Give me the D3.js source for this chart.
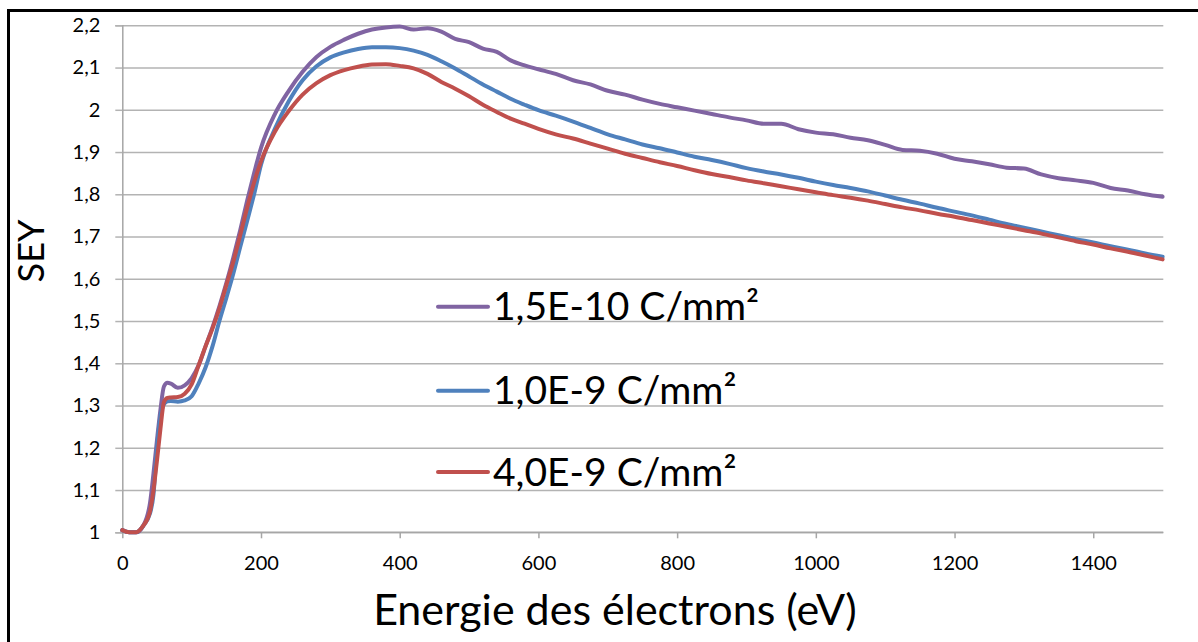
<!DOCTYPE html>
<html>
<head>
<meta charset="utf-8">
<script src="https://cdn.jsdelivr.net/npm/d3@7"></script>
<style>
  html, body { margin: 0; padding: 0; background: #fff; }
  svg { display: block; }
  text { font-family: Lato, "Open Sans", sans-serif; fill: #000; }
</style>
</head>
<body>
<svg id="chart" width="1198" height="642"></svg>
<script>
// ---- data ----
const energies = [0,10,20,30,40,45,50,55,60,65,70,80,90,100,110,120,130,140,150,160,170,180,190,200,
  220,240,260,280,300,320,340,360,380,400,420,440,460,480,500,520,540,560,580,600,
  625,650,675,700,725,750,775,800,825,850,875,900,925,950,975,1000,1025,1050,1075,1100,
  1125,1150,1175,1200,1225,1250,1275,1300,1325,1350,1375,1400,1425,1450,1475,1500];

const sey_15E10 = [1.005,1.0,1.0,1.015,1.07,1.14,1.218,1.29,1.345,1.354,1.352,1.342,1.348,1.365,1.395,1.44,1.485,1.535,1.59,1.65,1.715,1.785,1.85,1.91,
  1.99,2.045,2.09,2.125,2.149,2.166,2.18,2.19,2.195,2.197,2.19,2.193,2.185,2.168,2.16,2.145,2.137,2.117,2.105,2.096,
  2.085,2.07,2.06,2.045,2.036,2.024,2.014,2.006,1.998,1.99,1.982,1.975,1.967,1.967,1.954,1.946,1.942,1.934,1.928,1.917,
  1.905,1.903,1.896,1.884,1.878,1.871,1.863,1.861,1.847,1.838,1.833,1.827,1.815,1.809,1.800,1.794];

const sey_10E9 = [1.005,1.0,1.0,1.015,1.045,1.09,1.2,1.275,1.303,1.31,1.311,1.309,1.312,1.322,1.352,1.39,1.44,1.5,1.555,1.612,1.675,1.737,1.8,1.87,
  1.955,2.02,2.07,2.103,2.124,2.136,2.144,2.148,2.148,2.146,2.14,2.13,2.115,2.098,2.079,2.06,2.043,2.026,2.012,1.999,
  1.986,1.972,1.957,1.942,1.93,1.918,1.909,1.899,1.889,1.881,1.872,1.862,1.854,1.847,1.839,1.83,1.822,1.815,1.807,1.797,
  1.787,1.778,1.768,1.759,1.75,1.74,1.73,1.721,1.712,1.703,1.694,1.686,1.677,1.669,1.66,1.652];

const sey_40E9 = [1.005,1.0,1.0,1.015,1.05,1.1,1.17,1.245,1.308,1.318,1.319,1.32,1.328,1.35,1.395,1.44,1.482,1.53,1.585,1.64,1.703,1.768,1.828,1.878,
  1.948,1.997,2.036,2.063,2.082,2.094,2.102,2.107,2.108,2.104,2.098,2.085,2.066,2.05,2.032,2.012,1.995,1.979,1.967,1.955,
  1.942,1.932,1.92,1.908,1.896,1.886,1.876,1.867,1.857,1.848,1.841,1.833,1.826,1.819,1.812,1.805,1.798,1.792,1.785,1.777,
  1.769,1.762,1.754,1.747,1.739,1.731,1.723,1.715,1.707,1.698,1.689,1.681,1.672,1.664,1.655,1.646];

const seriesNames = ["1,5E-10 C/mm²", "1,0E-9 C/mm²", "4,0E-9 C/mm²"];
const seriesColors = ["#8064a2", "#4f81bd", "#c0504d"];
const xTickValues = [0,200,400,600,800,1000,1200,1400];
const yTickValues = [1,1.1,1.2,1.3,1.4,1.5,1.6,1.7,1.8,1.9,2,2.1,2.2];
const yTickLabels = ["1","1,1","1,2","1,3","1,4","1,5","1,6","1,7","1,8","1,9","2","2,1","2,2"];
const xTitle = "Energie des électrons (eV)";
const yTitle = "SEY";

// ---- layout ----
const svg = d3.select("#chart");
const pLeft = 122.3, pRight = 1162.6, pTop = 25.3, pBottom = 532.3;
const x = d3.scaleLinear().domain([0, 1500]).range([pLeft, pRight]);
const y = d3.scaleLinear().domain([1, 2.2]).range([pBottom, pTop]);

// frame
svg.append("rect").attr("x", 8.5).attr("y", 10.5).attr("width", 1300).attr("height", 800)
  .attr("fill", "none").attr("stroke", "#000").attr("stroke-width", 3);

// horizontal gridlines
const grid = svg.append("g").attr("transform", `translate(${pLeft},0)`)
  .call(d3.axisLeft(y).tickValues(yTickValues).tickSize(-(pRight - pLeft + 0.7)).tickFormat(""));
grid.select(".domain").remove();
grid.selectAll("line").attr("stroke", "#b3b3b3").attr("stroke-width", 1.5);

// y axis
const yAxis = svg.append("g").attr("transform", `translate(${pLeft},0)`)
  .call(d3.axisLeft(y).tickValues(yTickValues).tickSize(7).tickPadding(15)
    .tickFormat((d, i) => yTickLabels[i]));
yAxis.select(".domain").attr("stroke", "#a6a6a6").attr("stroke-width", 1.5);
yAxis.selectAll("line").attr("stroke", "#b3b3b3").attr("stroke-width", 1.5);
yAxis.selectAll("text").style("font-size", "20px").attr("fill", "#000");

// x axis
const xAxis = svg.append("g").attr("transform", `translate(0,${pBottom})`)
  .call(d3.axisBottom(x).tickValues(xTickValues).tickSize(6).tickPadding(18).tickFormat(d3.format("d")));
xAxis.select(".domain").attr("stroke", "#a6a6a6").attr("stroke-width", 1.5)
  .attr("d", `M${pLeft},0H${pRight + 0.7}`);
xAxis.selectAll("line").attr("stroke", "#a6a6a6").attr("stroke-width", 1.5);
xAxis.selectAll("text").style("font-size", "20px").attr("fill", "#000");

// lines
const series = [sey_15E10, sey_10E9, sey_40E9];
const line = d3.line().x((d, i) => x(energies[i])).y(d => y(d)).curve(d3.curveMonotoneX);
series.forEach((vals, k) => {
  svg.append("path").datum(vals)
    .attr("d", line)
    .attr("fill", "none")
    .attr("stroke", seriesColors[k])
    .attr("stroke-width", 4)
    .attr("stroke-linejoin", "round")
    .attr("stroke-linecap", "round");
});

// legend
const legendY = [306.7, 390.7, 472];
const lg = svg.append("g");
seriesNames.forEach((name, k) => {
  lg.append("line").attr("x1", 438).attr("x2", 488).attr("y1", legendY[k]).attr("y2", legendY[k])
    .attr("stroke", seriesColors[k]).attr("stroke-width", 4).attr("stroke-linecap", "round");
  lg.append("text").attr("x", 493).attr("y", legendY[k] + 13.5)
    .style("font-size", "39px").text(name);
});

// axis titles
svg.append("text").attr("x", 615).attr("y", 625).attr("text-anchor", "middle")
  .style("font-size", "43px").text(xTitle);
svg.append("text").attr("transform", "translate(44,251) rotate(-90)").attr("text-anchor", "middle")
  .style("font-size", "36px").text(yTitle);
</script>
</body>
</html>
